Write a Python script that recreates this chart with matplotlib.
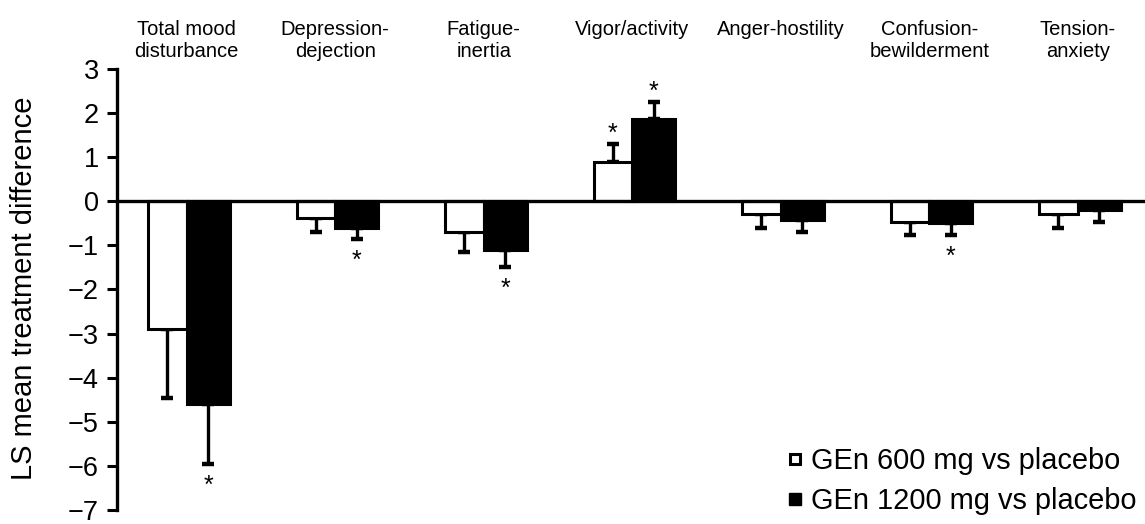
import matplotlib
matplotlib.use("Agg")
import matplotlib.pyplot as plt
from matplotlib.lines import Line2D
import numpy as np

plt.rcParams['font.family'] = ['Liberation Sans', 'DejaVu Sans']

categories = ["Total mood\ndisturbance", "Depression-\ndejection", "Fatigue-\ninertia",
              "Vigor/activity", "Anger-hostility", "Confusion-\nbewilderment", "Tension-\nanxiety"]
gen600 = [-2.9, -0.38, -0.7, 0.9, -0.28, -0.47, -0.28]
gen600_err = [1.55, 0.32, 0.45, 0.4, 0.33, 0.3, 0.32]
gen1200 = [-4.6, -0.6, -1.1, 1.87, -0.43, -0.5, -0.19]
gen1200_err = [1.35, 0.26, 0.4, 0.38, 0.27, 0.27, 0.29]
sig600 = [False, False, False, True, False, False, False]
sig1200 = [True, True, True, True, False, True, False]
yticks = [3, 2, 1, 0, -1, -2, -3, -4, -5, -6, -7]
legend_labels = ["GEn 600 mg vs placebo", "GEn 1200 mg vs placebo"]

W, H = 1145, 524
fig = plt.figure(figsize=(W / 100, H / 100), dpi=100)
ax_left = 117 / W
ax_bottom = 1 - 510 / H
ax_top = 1 - 69 / H
ax = fig.add_axes([ax_left, ax_bottom, 1 - ax_left, ax_top - ax_bottom])

x = np.arange(len(categories))
w_white = 0.26
w_black = 0.29
lw = 2.2

ax.bar(x, gen600, width=-w_white, align='edge', color='white', edgecolor='black',
       linewidth=lw, zorder=2)
ax.bar(x, gen1200, width=w_black, align='edge', color='black', edgecolor='black',
       linewidth=lw, zorder=3)

xc600 = x - w_white / 2
xc1200 = x + w_black / 2
v600 = np.array(gen600)
v1200 = np.array(gen1200)
e600 = np.array(gen600_err)
e1200 = np.array(gen1200_err)

def one_sided(vals, errs):
    lower = np.where(vals < 0, errs, 0)
    upper = np.where(vals >= 0, errs, 0)
    return [lower, upper]

ax.errorbar(xc600, v600, yerr=one_sided(v600, e600), fmt='none', ecolor='black',
            elinewidth=2.4, capsize=4.4, capthick=3.2, zorder=1)
ax.errorbar(xc1200, v1200, yerr=one_sided(v1200, e1200), fmt='none', ecolor='black',
            elinewidth=2.4, capsize=4.4, capthick=3.2, zorder=1)

def star(xs, vals, errs, flags):
    for xi, v, e, f in zip(xs, vals, errs, flags):
        if not f:
            continue
        end = v + e if v >= 0 else v - e
        off = -1.5 if v >= 0 else -24.4
        ax.annotate('*', xy=(xi, end), xytext=(0, off), textcoords='offset points',
                    ha='center', va='bottom', fontsize=18, annotation_clip=False)

star(xc600, v600, e600, sig600)
star(xc1200, v1200, e1200, sig1200)

ax.axhline(0, color='black', linewidth=2.4, zorder=4)

for xi, lab in zip(x, categories):
    ax.text(xi, 4.12, lab, ha='center', va='top', fontsize=14.5, linespacing=1.2,
            clip_on=False)

ax.set_xlim((117 - 186.7) / 148.5, (W - 186.7) / 148.5)
ax.set_ylim(-7, 3)
ax.set_yticks(yticks)
ax.set_yticklabels([f"{t}".replace('-', '\u2212') for t in yticks])
ax.tick_params(axis='y', direction='out', length=7, width=2.2, labelsize=19.5, pad=6)
ax.set_xticks([])
for s in ['top', 'right', 'bottom']:
    ax.spines[s].set_visible(False)
ax.spines['left'].set_linewidth(2.4)
ax.spines['left'].set_bounds(-7, 3)
fig.text(24 / W, 1 - 288.5 / H, "LS mean treatment difference", rotation=90,
         ha='center', va='center', fontsize=21)

handles = [Line2D([], [], marker='s', linestyle='none', markersize=7.5,
                  markerfacecolor='white', markeredgecolor='black', markeredgewidth=2.2),
           Line2D([], [], marker='s', linestyle='none', markersize=9,
                  markerfacecolor='black', markeredgecolor='black')]
fig.legend(handles, legend_labels, loc='lower right', bbox_to_anchor=(1.0, 0.0),
           frameon=False, fontsize=20.9, handletextpad=0.15, labelspacing=0.42,
           borderpad=0.3, handlelength=0.8, borderaxespad=0.0)

fig.savefig("out.png", dpi=100)
